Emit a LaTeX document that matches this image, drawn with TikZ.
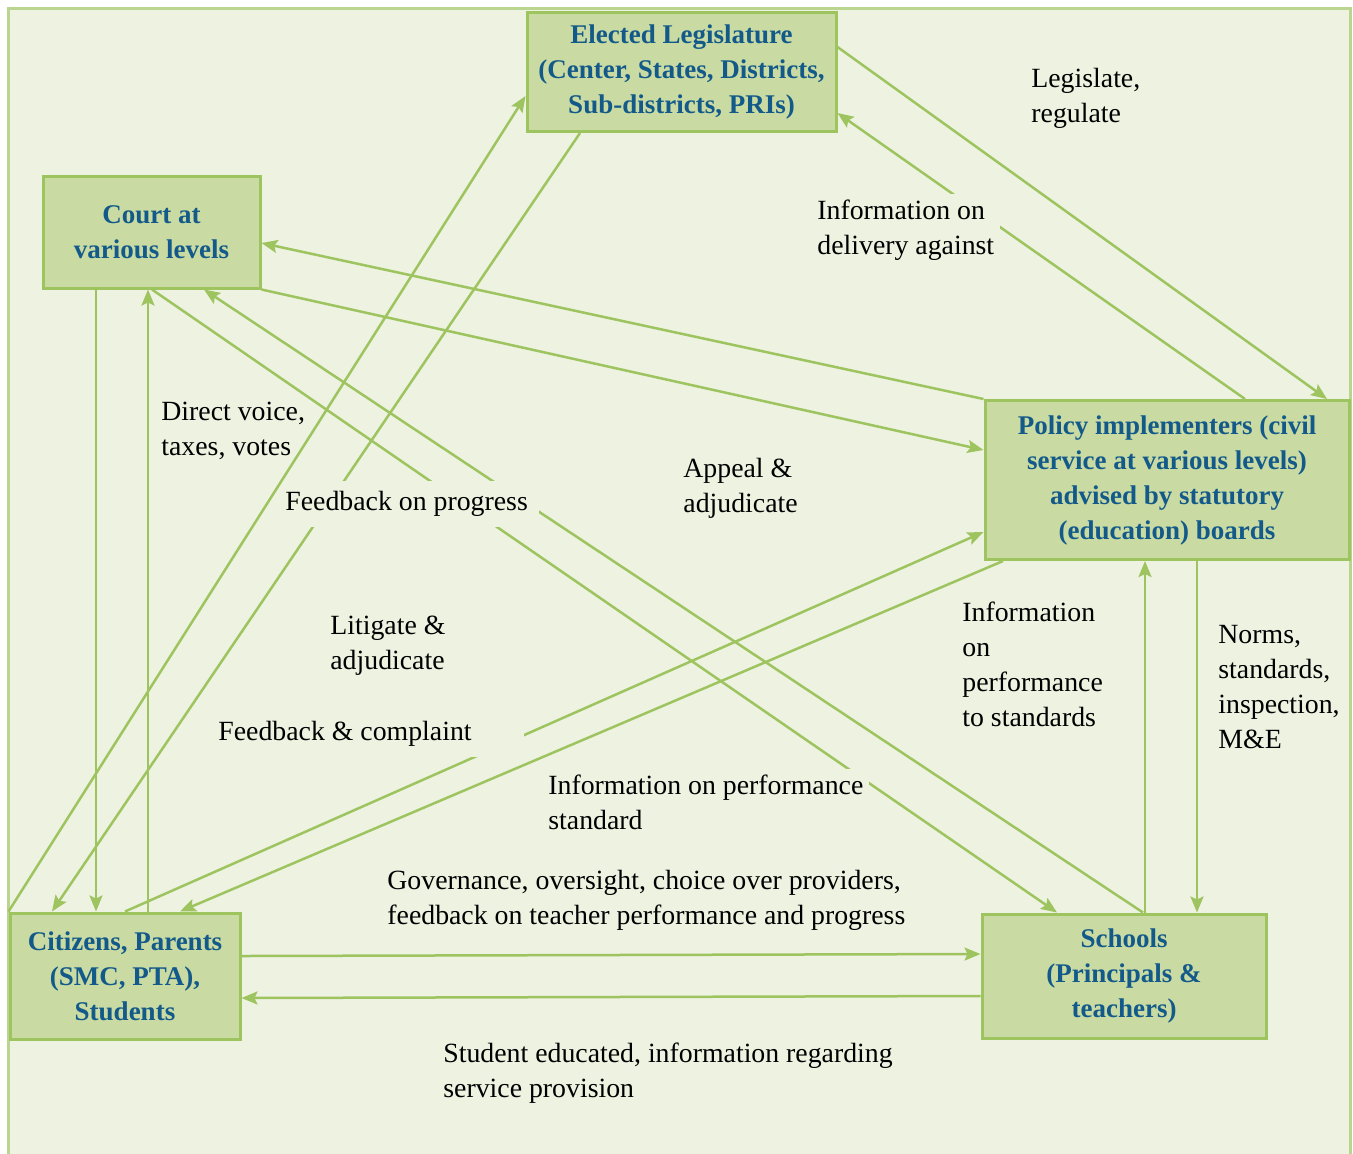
\documentclass[tikz,border=0pt]{standalone}
\usepackage{fontspec}
\setmainfont{Liberation Serif}
\usetikzlibrary{arrows.meta}
\definecolor{bgc}{HTML}{EEF2E1}
\definecolor{frm}{HTML}{B9D590}
\definecolor{boxf}{HTML}{C9DBA2}
\definecolor{boxd}{HTML}{9DC45F}
\definecolor{lnc}{HTML}{9DC45F}
\definecolor{txtb}{HTML}{135A8A}
\begin{document}
\begin{tikzpicture}[x=0.5pt,y=-0.5pt,
 actor/.style={draw=boxd, line width=1.5pt, fill=boxf, text=txtb,
   font=\fontsize{13.5}{17.5}\selectfont\bfseries, align=center, inner sep=0pt},
 conn/.style={draw=lnc, line width=1.25pt, -{Stealth[length=8pt,width=6.5pt,inset=1.5pt]}},
 lbl/.style={font=\fontsize{13.9}{17.5}\selectfont, align=left, anchor=west, inner sep=0pt, text=black},
 lblf/.style={lbl, fill=bgc, inner xsep=1pt, inner ysep=5pt}]
\useasboundingbox (0,0) rectangle (1353,1153);
\clip (0,0) rectangle (1353,1153);
\fill[white] (0,0) rectangle (1353,1153);
\draw[frm, line width=1.5pt, fill=bgc] (8,8) rectangle (1350,1175);

% actors
\node[actor, minimum width=154.5pt, minimum height=59.5pt] (leg) at (681.5,72)
  {Elected Legislature\\(Center, States, Districts,\\Sub-districts, PRIs)};
\node[actor, minimum width=108.5pt, minimum height=56pt] (court) at (151.5,232)
  {Court at\\various levels};
\node[actor, minimum width=182pt, minimum height=79.5pt] (policy) at (1167,480)
  {Policy implementers (civil\\service at various levels)\\advised by statutory\\(education) boards};
\node[actor, minimum width=115pt, minimum height=63pt] (cit) at (125,976)
  {Citizens, Parents\\(SMC, PTA),\\Students};
\node[actor, minimum width=142pt, minimum height=62pt] (sch) at (1124,976)
  {Schools\\(Principals \&\\teachers)};

% connectors
\draw[conn] (leg.east |- 0,47) -- (policy.north -| 1327,0);
\draw[conn] (policy.north -| 1245,0) -- (leg.east |- 0,113);
\draw[conn] (policy.north west) -- (court.east |- 0,243);
\draw[conn] (court.south east) -- (policy.west |- 0,450);
\draw[conn] (cit.north west) -- (leg.west |- 0,96);
\draw[conn] (leg.south -| 580,0) -- (cit.north -| 52,0);
\draw[conn] (court.south -| 96,0) -- (cit.north -| 96,0);
\draw[conn] (cit.north -| 148,0) -- (court.south -| 148,0);
\draw[conn] (sch.north -| 1143,0) -- (court.south -| 204,0);
\draw[conn] (court.south -| 152,0) -- (sch.north -| 1057,0);
\draw[conn] (cit.north -| 125,0) -- (policy.west |- 0,532);
\draw[conn] (policy.south -| 1003,0) -- (cit.north -| 180,0);
\draw[conn] (sch.north -| 1145,0) -- (policy.south -| 1145,0);
\draw[conn] (policy.south -| 1197,0) -- (sch.north -| 1197,0);
\draw[conn] (cit.east |- 0,956) -- (sch.west |- 0,954);
\draw[conn] (sch.west |- 0,996) -- (cit.east |- 0,998);

% labels
\node[lbl] (l1) at (1031,98) {Legislate,\\regulate};
\node[lbl, fill=bgc, inner sep=3pt] (l2) at (811,230) {Information on\\delivery against};
\node[lbl] (l3) at (161,431) {Direct voice,\\taxes, votes};
\node[lblf] (l4) at (283,504) {\makebox[126pt][l]{Feedback on progress}};
\node[lbl] (l5) at (683,488) {Appeal \&\\adjudicate};
\node[lbl] (l6) at (330,646) {Litigate \&\\adjudicate};
\node[lblf] (l7) at (216,734) {\makebox[152pt][l]{Feedback \& complaint}};
\node[lbl, fill=bgc, inner sep=3pt] (l8) at (542,802) {Information on performance\\standard};
\node[lbl] (l9) at (962,664) {Information\\on\\performance\\to standards};
\node[lbl] (l10) at (1218,687) {Norms,\\standards,\\inspection,\\M\&E};
\node[lbl] (l11) at (387,900) {Governance, oversight, choice over providers,\\feedback on teacher performance and progress};
\node[lbl] (l12) at (443,1073) {Student educated, information regarding\\service provision};
\end{tikzpicture}
\end{document}
